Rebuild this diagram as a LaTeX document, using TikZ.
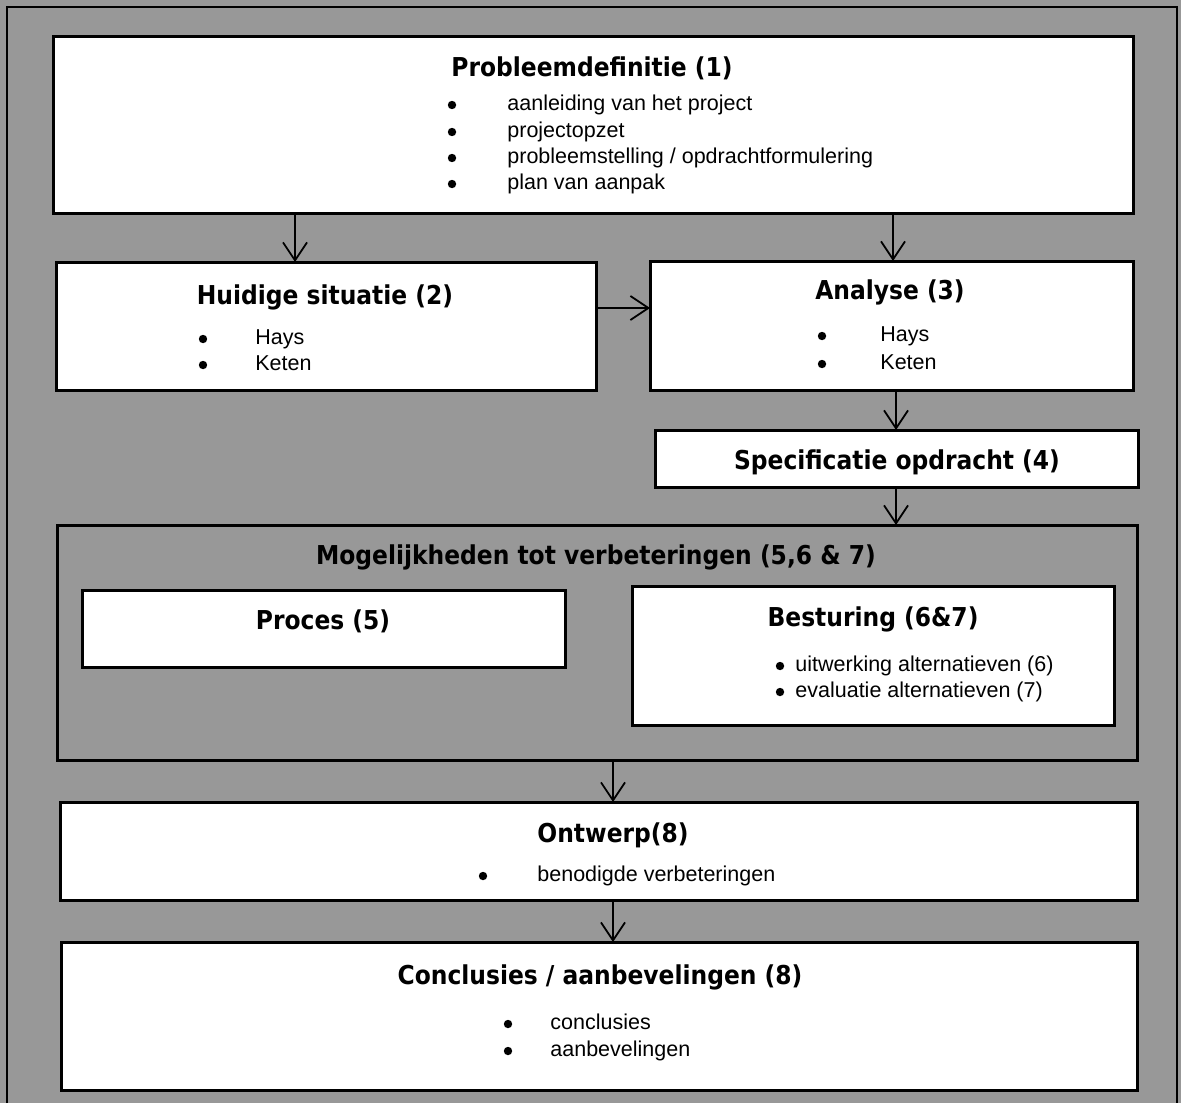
\documentclass[tikz,border=0pt]{standalone}
\usepackage{fontspec}
\setmainfont{Liberation Sans}
\newfontfamily\headfont{DejaVu Sans Condensed}[BoldFont={DejaVu Sans Condensed Bold}]
\usetikzlibrary{arrows.meta}
\definecolor{paper}{RGB}{152,152,152}
\tikzset{
  box/.style={draw, line width=1.5pt, fill=white, inner sep=0pt, outer sep=0pt, anchor=north west},
  head/.style={font=\headfont\bfseries\fontsize{13}{15}\selectfont, inner sep=0pt, anchor=mid, yshift=-2pt},
  item/.style={font=\fontsize{10.75}{13}\selectfont, inner sep=0pt, anchor=mid west, yshift=-1.5pt},
  dot/.style={circle, fill=black, draw=none, inner sep=0pt, minimum size=4.2pt, yshift=-1.5pt},
  flow/.style={line width=0.9pt, -{Straight Barb[length=9pt,width=12pt,line width=0.9pt]}}
}
% panel{name}{left}{top}{right}{bottom}
\newcommand\panel[6][]{\node[box, #1, minimum width={(#5-#3)*0.5pt}, minimum height={(#6-#4)*0.5pt}] (#2) at (#3,#4) {};}
\begin{document}
\begin{tikzpicture}[x=0.5pt,y=-0.5pt]
\useasboundingbox (0,0) rectangle (1181,1103);
\fill[paper] (0,0) rectangle (1181,1103);
\draw[line width=1pt] (7,1103) -- (7,7) -- (1177,7) -- (1177,1103);

% boxes
\panel{pd}{53}{36}{1133}{213}
\panel{hs}{56}{262}{596}{390}
\panel{an}{650}{261}{1133}{390}
\panel{so}{655}{430}{1138}{487}
\panel[fill=paper]{mv}{57}{525}{1137}{760}
\panel{pr}{82}{590}{565}{667}
\panel{be}{632}{586}{1114}{725}
\panel{on}{60}{802}{1137}{900}
\panel{cl}{61}{942}{1137}{1090}

% probleemdefinitie
\node[head] (pdt) at (592,67) {Probleemdefinitie (1)};
\foreach \y/\t [count=\i] in {102/{aanleiding van het project}, 129/{projectopzet}, 155/{probleemstelling / opdrachtformulering}, 181/{plan van aanpak}}{
  \node[dot] (pdd\i) at (452,\y) {};
  \node[item] (pdi\i) at (507,\y) {\t};
}

% huidige situatie
\node[head] (hst) at (325,295) {Huidige situatie (2)};
\node[dot] (hsd1) at (203,336) {};
\node[item] (hsi1) at (255,336) {Hays};
\node[dot] (hsd2) at (203,362) {};
\node[item] (hsi2) at (255,362) {Keten};

% analyse
\node[head] (ant) at (890,290) {Analyse (3)};
\node[dot] (and1) at (822,333) {};
\node[item] (ani1) at (880,333) {Hays};
\node[dot] (and2) at (822,361) {};
\node[item] (ani2) at (880,361) {Keten};

% specificatie
\node[head] (sot) at (897,460) {Specificatie opdracht (4)};

% mogelijkheden
\node[head] (mvt) at (596,555) {Mogelijkheden tot verbeteringen (5,6 \& 7)};
\node[head] (prt) at (323,620) {Proces (5)};
\node[head] (bet) at (873,617) {Besturing (6\&7)};
\node[dot] (bed1) at (780,663) {};
\node[item] (bei1) at (795,663) {uitwerking alternatieven (6)};
\node[dot] (bed2) at (780,689) {};
\node[item] (bei2) at (795,689) {evaluatie alternatieven (7)};

% ontwerp
\node[head] (ont) at (613,833) {Ontwerp(8)};
\node[dot] (ond1) at (483,873) {};
\node[item] (oni1) at (537,873) {benodigde verbeteringen};

% conclusies
\node[head] (clt) at (600,975) {Conclusies / aanbevelingen (8)};
\node[dot] (cld1) at (508,1021) {};
\node[item] (cli1) at (550,1021) {conclusies};
\node[dot] (cld2) at (508,1048) {};
\node[item] (cli2) at (550,1048) {aanbevelingen};

% connectors
\coordinate (xa) at (295,0);
\coordinate (xb) at (893,0);
\coordinate (xc) at (896,0);
\coordinate (xd) at (613,0);
\coordinate (ya) at (0,308);
\draw[flow] (xa |- pd.south) -- (xa |- hs.north);
\draw[flow] (xb |- pd.south) -- (xb |- an.north);
\draw[flow] (hs.east |- ya) -- (an.west |- ya);
\draw[flow] (xc |- an.south) -- (xc |- so.north);
\draw[flow] (xc |- so.south) -- (xc |- mv.north);
\draw[flow] (xd |- mv.south) -- (xd |- on.north);
\draw[flow] (xd |- on.south) -- (xd |- cl.north);
\end{tikzpicture}
\end{document}
